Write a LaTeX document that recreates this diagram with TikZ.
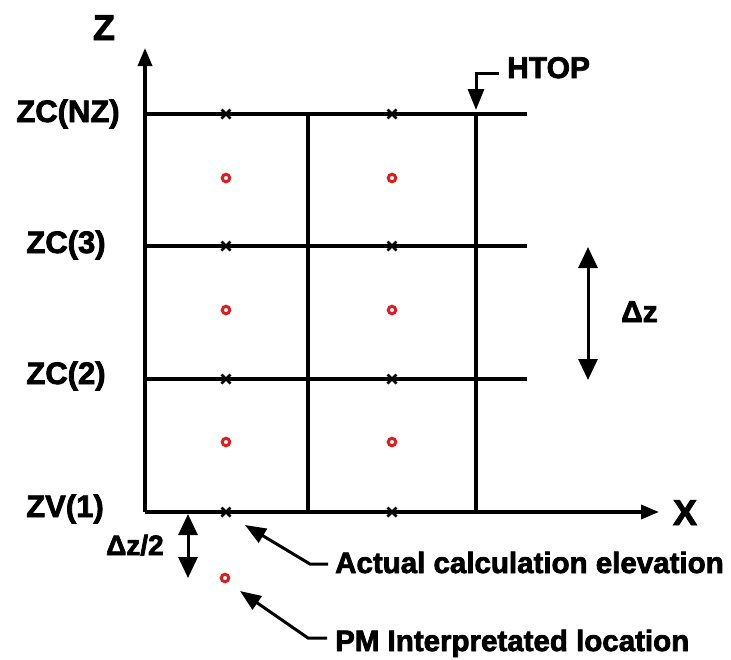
\documentclass[tikz,border=0pt]{standalone}
\usepackage{fontspec}
\setmainfont{Liberation Sans}[BoldFeatures={FakeBold=2.5}]
\usetikzlibrary{arrows.meta,calc}
\definecolor{markred}{RGB}{220,30,30}
\begin{document}
\begin{tikzpicture}[x=1pt,y=-1pt,
  lbl/.style={inner sep=0pt,font=\fontsize{31}{36}\selectfont\bfseries},
  biglbl/.style={inner sep=0pt,font=\fontsize{36}{40}\selectfont\bfseries},
  txt/.style={inner sep=0pt,font=\fontsize{29.5}{34}\selectfont\bfseries},
  gridline/.style={line width=3.5pt},
  axisline/.style={line width=3.5pt,-{Triangle[length=18pt,width=14pt]}},
  dblarrow/.style={line width=3pt,{Triangle[length=21pt,width=19pt]}-{Triangle[length=21pt,width=19pt]}},
  leader/.style={line width=3pt,-{Triangle[length=21pt,width=16pt]}},
  xmark/.style={line width=2.8pt},
  pmark/.style={draw=markred,line width=3pt,circle,inner sep=0pt,minimum size=7.5pt}]
\useasboundingbox (0,0) rectangle (731,659);
% origin and axes
\coordinate (O) at (145,512);
\coordinate (ztip) at (145,48);
\coordinate (xtip) at (659,512);
% grid
\coordinate (h1a) at (145,114); \coordinate (h1b) at (527,114);
\coordinate (h2a) at (145,246); \coordinate (h2b) at (527,246);
\coordinate (h3a) at (145,379); \coordinate (h3b) at (527,379);
\coordinate (v1a) at (308,114); \coordinate (v1b) at (308,512);
\coordinate (v2a) at (476,114); \coordinate (v2b) at (476,512);
\draw[gridline] (h1a) -- (h1b);
\draw[gridline] (h2a) -- (h2b);
\draw[gridline] (h3a) -- (h3b);
\draw[gridline] (v1a) -- (v1b);
\draw[gridline] (v2a) -- (v2b);
\draw[axisline] (O) -- (ztip);
\draw[axisline] (O) -- (xtip);
% cross marks
\foreach \xx/\nm in {226/a,392/b}{
  \foreach \yy/\mm in {114/1,246/2,379/3,512/4}{
    \coordinate (c\nm\mm) at (\xx,\yy);
    \draw[xmark] ($(c\nm\mm)+(-4.5,-4.5)$) -- ($(c\nm\mm)+(4.5,4.5)$);
    \draw[xmark] ($(c\nm\mm)+(-4.5,4.5)$) -- ($(c\nm\mm)+(4.5,-4.5)$);
  }
}
% red circles
\foreach \xx/\nm in {226/a,392/b}{
  \foreach \yy/\mm in {178/1,310/2,442/3}{
    \node[pmark] (p\nm\mm) at (\xx,\yy) {};
  }
}
\node[pmark] (pm) at (225,578) {};
% labels
\node[biglbl,anchor=base] (zl) at (104,40) {Z};
\node[biglbl,anchor=base] (xl) at (685,525) {X};
\node[lbl,anchor=base] (lnz) at (68,122) {ZC(NZ)};
\node[lbl,anchor=base] (l3) at (66,253) {ZC(3)};
\node[lbl,anchor=base] (l2) at (66,384) {ZC(2)};
\node[lbl,anchor=base] (l1) at (65,517) {ZV(1)};
\node[lbl,anchor=base west,font=\fontsize{30}{34}\selectfont\bfseries] (ltop) at (507,78) {HTOP};
\node[lbl,anchor=base west,font=\fontsize{30}{34}\selectfont\bfseries] (ldz) at (621,322) {Δz};
\node[lbl,anchor=base west,font=\fontsize{28}{34}\selectfont\bfseries] (ldz2) at (106,555) {Δz/2};
\node[txt,anchor=base west] (tact) at (335,573) {Actual calculation elevation};
\node[txt,anchor=base west] (tpm) at (335,651) {PM Interpretated location};
% HTOP leader
\coordinate (t1) at (499,73);
\coordinate (t2) at (476,73);
\coordinate (t3) at (476,110);
\draw[leader] (t1) -- (t2) -- (t3);
% delta z arrows
\coordinate (dza) at (588,247);
\coordinate (dzb) at (588,380);
\draw[dblarrow] (dza) -- (dzb);
\coordinate (dz2a) at (188,514);
\coordinate (dz2b) at (188,578);
\draw[dblarrow] (dz2a) -- (dz2b);
% leaders
\coordinate (a1) at (328,564); \coordinate (a2) at (310,564); \coordinate (a3) at (245,525);
\draw[leader] (a1) -- (a2) -- (a3);
\coordinate (b1) at (327,638); \coordinate (b2) at (308,638); \coordinate (b3) at (240,591);
\draw[leader] (b1) -- (b2) -- (b3);
\end{tikzpicture}
\end{document}
